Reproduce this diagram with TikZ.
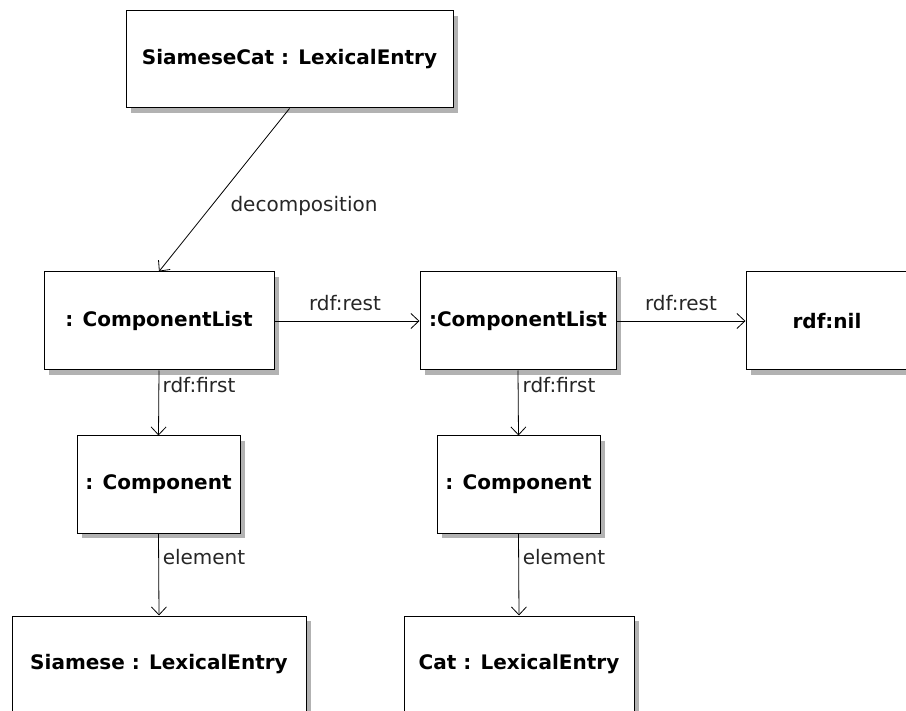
\documentclass[tikz,border=0pt]{standalone}
\usepackage{fontspec}
\setmainfont{DejaVu Sans}
\usetikzlibrary{arrows.meta,shadows}
\begin{document}
\begin{tikzpicture}[x=1pt,y=-1pt,
  obj/.style={draw=black, line width=1pt, fill=white, font=\fontsize{20}{23}\selectfont\bfseries,
    inner sep=0pt, drop shadow={shadow xshift=5pt, shadow yshift=-5pt, fill=black!30, opacity=1}},
  rel/.style={draw=black, line width=0.8pt, -{Straight Barb[length=8pt,width=15pt,line width=0.8pt]}},
  lbl/.style={font=\fontsize{20}{23}\selectfont, inner sep=0pt, text=black!85}]
\useasboundingbox (0,0) rectangle (906,711);
% objects
\node[obj, minimum width=327pt, minimum height=97pt] (whole) at (289.5,59.5) {SiameseCat : LexicalEntry};
\node[obj, minimum width=230pt, minimum height=98pt] (list1) at (159,321) {: ComponentList};
\node[obj, minimum width=196pt, minimum height=98pt] (list2) at (518,321) {:ComponentList};
\node[obj, minimum width=162pt, minimum height=98pt] (nil) at (827,321) {rdf:nil};
\node[obj, minimum width=163pt, minimum height=97pt] (comp1) at (158.5,484.5) {: Component};
\node[obj, minimum width=163pt, minimum height=97pt] (comp2) at (518.5,484.5) {: Component};
\node[obj, minimum width=294pt, minimum height=96pt] (siamese) at (159,664) {Siamese : LexicalEntry};
\node[obj, minimum width=230pt, minimum height=96pt] (cat) at (519,664) {Cat : LexicalEntry};
% relations
\draw[rel] (whole.south) -- (list1.north);
\node[lbl] (ldecomp) at (304,206) {decomposition};
\draw[rel] (list1.east) -- (list2.west);
\node[lbl] (lrest1) at (345,303) {rdf:rest};
\draw[rel] (list2.east) -- (nil.west);
\node[lbl] (lrest2) at (681,303) {rdf:rest};
\draw[rel] (list1.south) -- (comp1.north);
\node[lbl] (lfirst1) at (199,385) {rdf:first};
\draw[rel] (list2.south) -- (comp2.north);
\node[lbl] (lfirst2) at (559,385) {rdf:first};
\draw[rel] (comp1.south) -- (siamese.north);
\node[lbl] (lelem1) at (204,557) {element};
\draw[rel] (comp2.south) -- (cat.north);
\node[lbl] (lelem2) at (564,557) {element};
\end{tikzpicture}
\end{document}
